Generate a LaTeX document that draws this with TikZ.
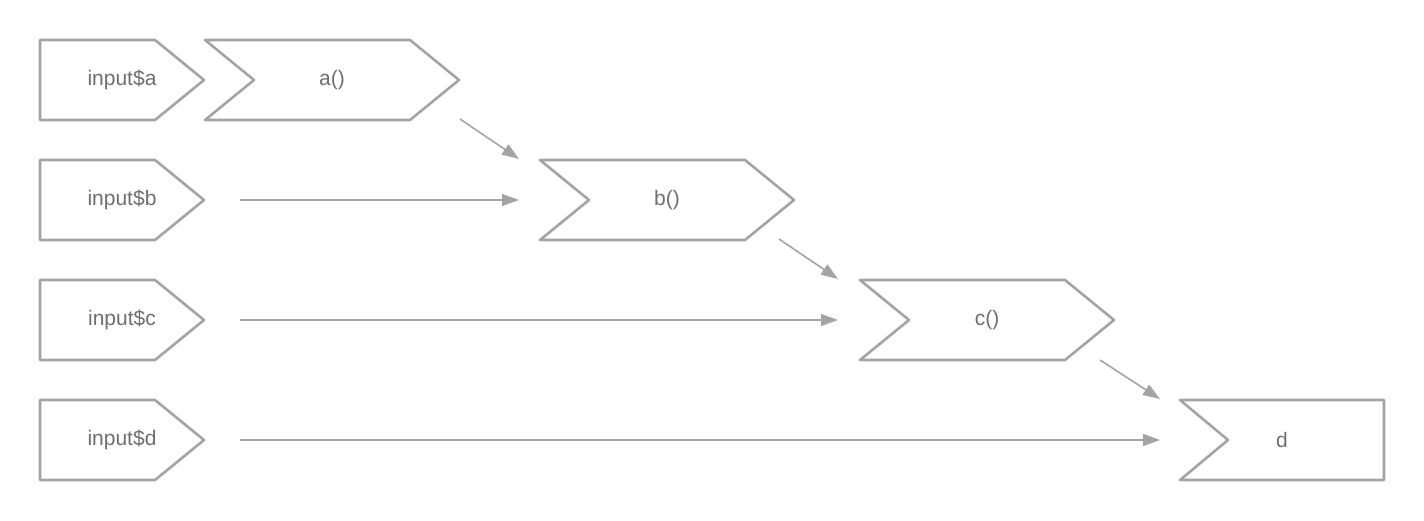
\documentclass[tikz,border=0pt]{standalone}
\usepackage{fontspec}
\setmainfont{Liberation Sans}
\usetikzlibrary{arrows.meta}
\definecolor{shapegray}{HTML}{A4A4A4}
\definecolor{textgray}{HTML}{6F6F6F}
\begin{document}
\begin{tikzpicture}[x=1pt,y=-1pt,
  shp/.style={draw=shapegray,line width=2.6pt,line join=round,fill=white},
  lbl/.style={text=textgray,font=\fontsize{21}{24}\selectfont,inner sep=0pt},
  conn/.style={draw=shapegray,line width=1.6pt,-{Triangle[length=17pt,width=12pt]}}]
\useasboundingbox (0,0) rectangle (1424,520);
% input shapes
\foreach \r/\y in {a/40,b/160,c/280,d/400}{
  \draw[shp] (40,\y) -- (155,\y) -- (204,\y+40) -- (155,\y+80) -- (40,\y+80) -- cycle;
  \node[lbl] (in\r) at (122,\y+40) {input\$\r};
}
% function shapes
\draw[shp] (205,40) -- (410,40) -- (459,80) -- (410,120) -- (205,120) -- (254,80) -- cycle;
\node[lbl] (fa) at (332,80) {a()};
\draw[shp] (540,160) -- (745,160) -- (794,200) -- (745,240) -- (540,240) -- (589,200) -- cycle;
\node[lbl] (fb) at (667,200) {b()};
\draw[shp] (860,280) -- (1065,280) -- (1114,320) -- (1065,360) -- (860,360) -- (909,320) -- cycle;
\node[lbl] (fc) at (987,320) {c()};
\draw[shp] (1180,400) -- (1384,400) -- (1384,480) -- (1180,480) -- (1228,440) -- cycle;
\node[lbl] (fd) at (1282,440) {d};
% connector end points
\coordinate (aout) at (460,119);
\coordinate (bin1) at (519,159);
\coordinate (bout) at (779,239);
\coordinate (cin1) at (838,279);
\coordinate (cout) at (1100,360);
\coordinate (din1) at (1160,399);
\coordinate (ibs) at (240,200);
\coordinate (ibe) at (519,200);
\coordinate (ics) at (240,320);
\coordinate (ice) at (838,320);
\coordinate (ids) at (240,440);
\coordinate (ide) at (1160,440);
\draw[conn] (aout) -- (bin1);
\draw[conn] (bout) -- (cin1);
\draw[conn] (cout) -- (din1);
\draw[conn] (ibs) -- (ibe);
\draw[conn] (ics) -- (ice);
\draw[conn] (ids) -- (ide);
\end{tikzpicture}
\end{document}
